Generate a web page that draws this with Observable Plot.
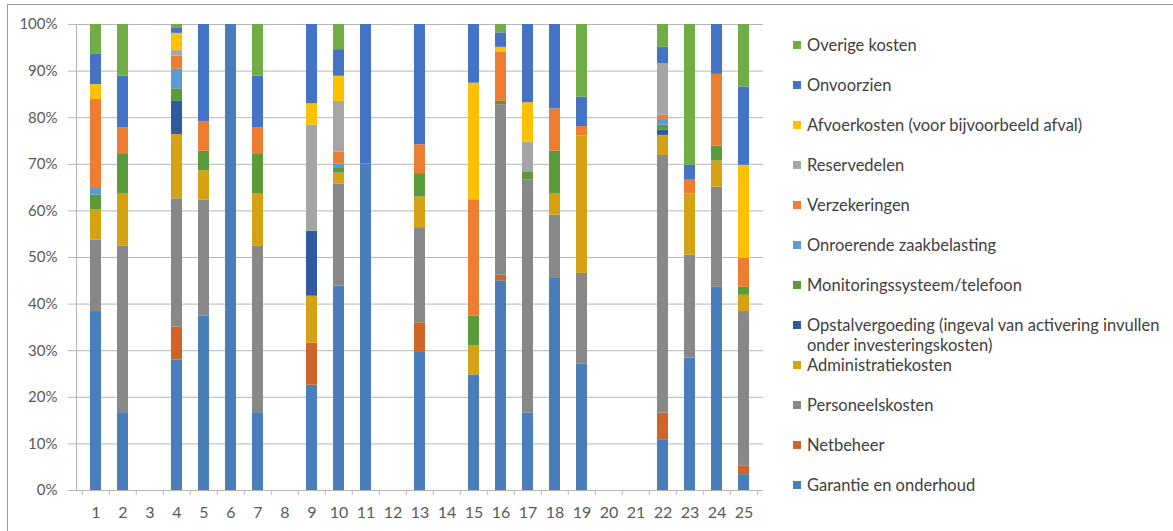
<!DOCTYPE html>
<html>
<head>
<meta charset="utf-8">
<script src="https://cdn.jsdelivr.net/npm/d3@7"></script>
<script src="https://cdn.jsdelivr.net/npm/@observablehq/plot@0.6"></script>
<style>
  body { margin: 0; background: #fff; }
  #wrap { position: relative; width: 1173px; height: 531px; overflow: hidden; background: #fff; font-family: Lato, "Open Sans", sans-serif; }
  #border { position: absolute; left: 7px; top: 4px; width: 1300px; height: 700px; border: 1px solid #9a9a9a; box-sizing: border-box; pointer-events: none; }
  #legend { position: absolute; left: 0; top: 0; }
  .item { position: absolute; left: 793px; width: 385px; font-size: 16.5px; line-height: 20px; color: #404040; }
  .sw { position: absolute; left: 0; top: 6px; width: 8px; height: 8px; }
  .lbl { position: absolute; left: 14px; width: 370px; }
</style>
</head>
<body>
<div id="wrap"><div id="chart"></div><div id="legend"></div><div id="border"></div></div>
<script>
// ---- data ----
const categories = ["1","2","3","4","5","6","7","8","9","10","11","12","13","14","15","16","17","18","19","20","21","22","23","24","25"];
const seriesNames = [
  "Garantie en onderhoud",
  "Netbeheer",
  "Personeelskosten",
  "Administratiekosten",
  "Opstalvergoeding (ingeval van activering invullen onder investeringskosten)",
  "Monitoringssysteem/telefoon",
  "Onroerende zaakbelasting",
  "Verzekeringen",
  "Reservedelen",
  "Afvoerkosten (voor bijvoorbeeld afval)",
  "Onvoorzien",
  "Overige kosten"
];
const seriesColors = ["#4a7ebb","#cf6428","#888888","#d4a212","#2f5aa0","#5a9a3a","#5b9bd5","#ed7d31","#a5a5a5","#ffc000","#4472c4","#70ad47"];

const garantie    = [38.4,16.7,0,28.0,37.4,100,16.7,0,22.6,43.9,70.1,0,29.8,0,24.8,45.0,16.6,45.5,27.1,0,0,10.9,28.4,43.6,3.4];
const netbeheer   = [0,0,0,7.1,0,0,0,0,9.0,0,0,0,6.2,0,0,1.2,0,0,0,0,0,5.7,0,0,1.9];
const personeel   = [15.3,35.7,0,27.5,24.9,0,35.7,0,0,21.8,0,0,20.4,0,0,36.6,50.0,13.6,19.5,0,0,55.3,22.1,21.5,33.1];
const administratie = [6.6,11.2,0,13.8,6.3,0,11.2,0,10.1,2.4,0,0,6.6,0,6.3,0,0,4.5,29.5,0,0,4.3,13.1,5.6,3.5];
const opstal      = [0,0,0,7.1,0,0,0,0,13.9,0,0,0,0,0,0,0,0,0,0,0,0,1.1,0,0,0];
const monitoring  = [3.1,8.5,0,2.7,4.2,0,8.5,0,0,1.0,0,0,5.0,0,6.3,0.7,1.8,9.2,0,0,0,1.1,0,3.2,1.7];
const onroerende  = [1.4,0,0,4.2,0,0,0,0,0,1.0,0,0,0,0,0,0,0,0,0,0,0,1.0,0,0,0];
const verzekeringen = [19.1,5.7,0,2.8,6.3,0,5.7,0,0,2.5,0,0,6.2,0,25.0,10.6,0,9.1,2.0,0,0,1.1,3.0,15.4,6.2];
const reservedelen = [0,0,0,1.2,0,0,0,0,22.8,10.9,0,0,0,0,0,0,6.4,0,0,0,0,11.1,0,0,0];
const afvoer      = [3.2,0,0,3.7,0,0,0,0,4.6,5.4,0,0,0,0,25.0,1.0,8.4,0,0,0,0,0,0,0,20.0];
const onvoorzien  = [6.6,11.1,0,1.2,20.9,0,11.1,0,17.0,5.7,29.9,0,25.8,0,12.6,3.1,16.8,18.1,6.3,0,0,3.5,3.2,10.7,16.8];
const overige     = [6.3,11.1,0,0.7,0,0,11.1,0,0,5.4,0,0,0,0,0,1.8,0,0,15.6,0,0,4.9,30.2,0,13.4];

const seriesValues = [garantie, netbeheer, personeel, administratie, opstal, monitoring, onroerende, verzekeringen, reservedelen, afvoer, onvoorzien, overige];
const yTickPercents = [0,10,20,30,40,50,60,70,80,90,100];

// ---- table ----
const table = [];
seriesNames.forEach((s, si) => {
  categories.forEach((c, ci) => {
    const v = seriesValues[si][ci];
    if (v > 0) table.push({cat: c, series: s, value: v});
  });
});
const yTicks = yTickPercents.map(p => p / 100);

// ---- layout ----
const W = 1173, H = 531, ML = 76, MR = 410, MT = 24, MB = 41;
const step = (W - ML - MR) / categories.length;
const gridColor = "#b4b4b4";
const textColor = "#595959";

const chart = Plot.plot({
  width: W, height: H,
  marginLeft: ML, marginRight: MR, marginTop: MT, marginBottom: MB,
  style: {fontFamily: "Lato, 'Open Sans', sans-serif", background: "transparent", overflow: "visible"},
  x: {domain: categories, paddingInner: 0.6, paddingOuter: 0.3, label: null},
  y: {domain: [0, 1], label: null},
  color: {domain: seriesNames, range: seriesColors},
  marks: [
    Plot.gridY(yTicks, {stroke: gridColor, strokeOpacity: 1}),
    Plot.axisY(yTicks, {tickSize: 8, tickPadding: 11, tickFormat: d => Math.round(d * 100) + "%", fontSize: 15, color: textColor, stroke: gridColor, strokeOpacity: 1, label: null}),
    Plot.axisX({tickSize: 5, tickFormat: () => "", dx: -step / 2, stroke: gridColor, strokeOpacity: 1, label: null}),
    Plot.axisX([categories[categories.length - 1]], {tickSize: 5, tickFormat: () => "", dx: step / 2, stroke: gridColor, strokeOpacity: 1, label: null}),
    Plot.axisX({tickSize: 0, tickPadding: 16, fontSize: 16, color: textColor, label: null}),
    Plot.frame({anchor: "left", stroke: gridColor, strokeOpacity: 1}),
    Plot.barY(table, Plot.stackY({x: "cat", y: "value", fill: "series", offset: "normalize", order: null})),
    Plot.ruleY([0], {stroke: gridColor, strokeOpacity: 1})
  ]
});
document.getElementById("chart").appendChild(chart);

// ---- legend (right side, top item = last series) ----
const legend = document.getElementById("legend");
const rev = seriesNames.map((s, i) => i).reverse();
rev.forEach((si, row) => {
  const item = document.createElement("div");
  item.className = "item";
  item.style.top = (35 + row * 40) + "px";
  const sw = document.createElement("div");
  sw.className = "sw";
  sw.style.background = seriesColors[si];
  const lbl = document.createElement("div");
  lbl.className = "lbl";
  lbl.textContent = seriesNames[si];
  item.appendChild(sw);
  item.appendChild(lbl);
  legend.appendChild(item);
});
</script>
</body>
</html>
